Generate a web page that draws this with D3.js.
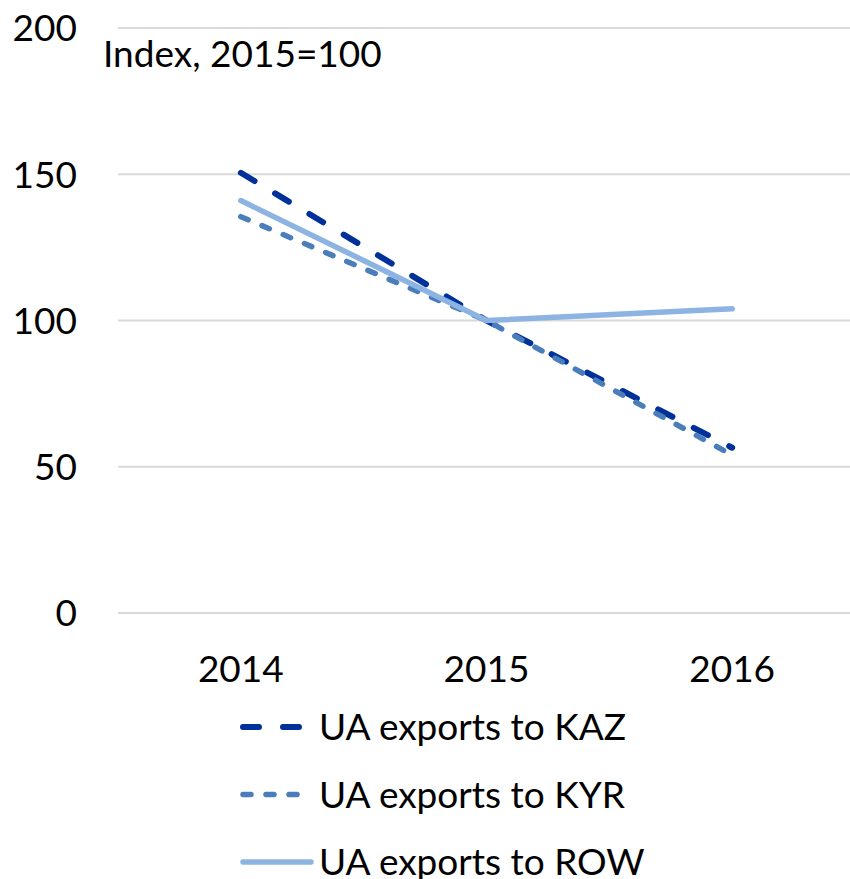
<!DOCTYPE html>
<html>
<head>
<meta charset="utf-8">
<script src="https://cdn.jsdelivr.net/npm/d3@7"></script>
<style>
  body { margin: 0; background: #fff; }
  text { font-family: Lato, "Open Sans", sans-serif; fill: #000; }
</style>
</head>
<body>
<svg id="chart"></svg>
<script>
// Data
const years = ['2014', '2015', '2016'];
const kazValues = [150.5, 100, 56.5];
const kyrValues = [135.5, 100, 54];
const rowValues = [141, 100, 104];
const seriesNames = ['UA exports to KAZ', 'UA exports to KYR', 'UA exports to ROW'];
const yTicks = [0, 50, 100, 150, 200];

const width = 850;
const height = 879;

const styles = [
  {color: '#00309a', width: 6, dash: '16,24'},
  {color: '#4a7ebb', width: 5.5, dash: '8,15'},
  {color: '#8db3e2', width: 5.5, dash: null}
];

const series = [kazValues, kyrValues, rowValues].map((values, i) => ({
  name: seriesNames[i],
  values: values.map((v, j) => ({year: years[j], value: v})),
  style: styles[i]
}));

const svg = d3.select('#chart')
  .attr('width', width)
  .attr('height', height);

const x = d3.scalePoint()
  .domain(years)
  .range([118, 855])
  .padding(0.5);

const y = d3.scaleLinear()
  .domain([0, 200])
  .range([613, 28]);

// Gridlines
svg.append('g')
  .selectAll('line')
  .data(yTicks)
  .join('line')
  .attr('x1', 118)
  .attr('x2', width)
  .attr('y1', d => y(d))
  .attr('y2', d => y(d))
  .attr('stroke', '#d9d9d9')
  .attr('stroke-width', 2);

// Y axis labels
svg.append('g')
  .selectAll('text')
  .data(yTicks)
  .join('text')
  .attr('x', 77)
  .attr('y', d => y(d))
  .attr('dy', '0.36em')
  .attr('text-anchor', 'end')
  .attr('font-size', 37)
  .text(d => d);

// X axis labels
svg.append('g')
  .selectAll('text')
  .data(years)
  .join('text')
  .attr('x', d => x(d))
  .attr('y', 682)
  .attr('text-anchor', 'middle')
  .attr('font-size', 37)
  .text(d => d);

// Unit label
svg.append('text')
  .attr('x', 103)
  .attr('y', 67)
  .attr('font-size', 37)
  .text('Index, 2015=100');

const line = d3.line()
  .x(d => x(d.year))
  .y(d => y(d.value));

svg.append('g')
  .selectAll('path')
  .data(series)
  .join('path')
  .attr('d', d => line(d.values))
  .attr('fill', 'none')
  .attr('stroke', d => d.style.color)
  .attr('stroke-width', d => d.style.width)
  .attr('stroke-dasharray', d => d.style.dash)
  .attr('stroke-linecap', 'round')
  .attr('stroke-linejoin', 'round');

// Legend
const legend = svg.append('g')
  .selectAll('g')
  .data(series)
  .join('g')
  .attr('transform', (d, i) => `translate(0, ${727 + i * 67.5})`);

legend.append('line')
  .attr('x1', 243)
  .attr('x2', (d, i) => i === 2 ? 311 : 302)
  .attr('stroke', d => d.style.color)
  .attr('stroke-width', d => d.style.width)
  .attr('stroke-dasharray', d => d.style.dash)
  .attr('stroke-linecap', 'round');

legend.append('text')
  .attr('x', 319)
  .attr('dy', '0.36em')
  .attr('font-size', 37)
  .text(d => d.name);
</script>
</body>
</html>
